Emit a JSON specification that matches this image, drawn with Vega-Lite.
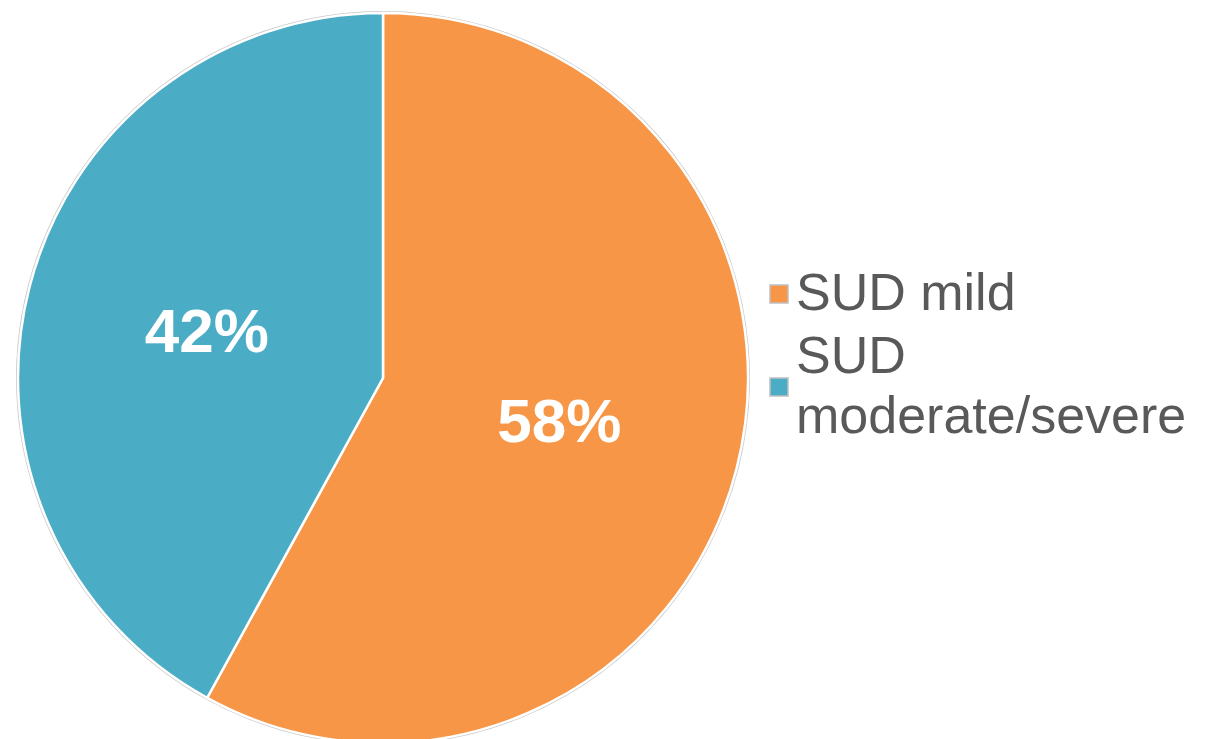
{
  "$schema": "https://vega.github.io/schema/vega-lite/v6.json",
  "width": 734,
  "height": 734,
  "padding": {"left": 13, "top": 8, "right": 0, "bottom": 0},
  "background": "white",
  "config": {"view": {"stroke": null}, "font": "Liberation Sans"},
  "data": {
    "values": [
      {"category": "SUD mild", "value": 58, "label": "58%"},
      {"category": "SUD moderate/severe", "value": 42, "label": "42%"}
    ]
  },
  "encoding": {
    "theta": {"field": "value", "type": "quantitative", "stack": true},
    "order": {"field": "value", "type": "quantitative", "sort": "descending"}
  },
  "layer": [
    {
      "mark": {"type": "arc", "fill": "#c8c8c8", "stroke": null},
      "encoding": {"radius": {"value": 367}, "detail": {"field": "category", "type": "nominal"}}
    },
    {
      "mark": {"type": "arc", "stroke": "white", "strokeWidth": 2.5},
      "encoding": {
        "radius": {"value": 365},
        "color": {
          "field": "category",
          "type": "nominal",
          "scale": {"domain": ["SUD mild", "SUD moderate/severe"], "range": ["#F79646", "#4BACC6"]},
          "legend": {
            "title": null,
            "orient": "none",
            "legendX": 737,
            "legendY": 257,
            "padding": 0,
            "symbolType": "square",
            "symbolSize": 324,
            "symbolStrokeColor": "#c0c0c0",
            "symbolStrokeWidth": 1.5,
            "labelFont": "Liberation Sans",
            "labelFontSize": 52,
            "labelColor": "#595959",
            "labelLimit": 0,
            "labelOffset": -9,
            "rowPadding": 11,
            "labelExpr": "datum.label == 'SUD moderate/severe' ? ['SUD', 'moderate/severe'] : datum.label",
            "encode": {"labels": {"update": {"lineHeight": {"value": 60}, "dy": {"signal": "datum.value == 'SUD moderate/severe' ? -30 : 0"}}}}
          }
        }
      }
    },
    {
      "mark": {"type": "text", "radius": 182, "fontSize": 62, "fontWeight": "bold", "font": "Liberation Sans", "color": "white"},
      "encoding": {
        "detail": {"field": "category", "type": "nominal"},
        "text": {"field": "label", "type": "nominal"}
      }
    }
  ]
}
